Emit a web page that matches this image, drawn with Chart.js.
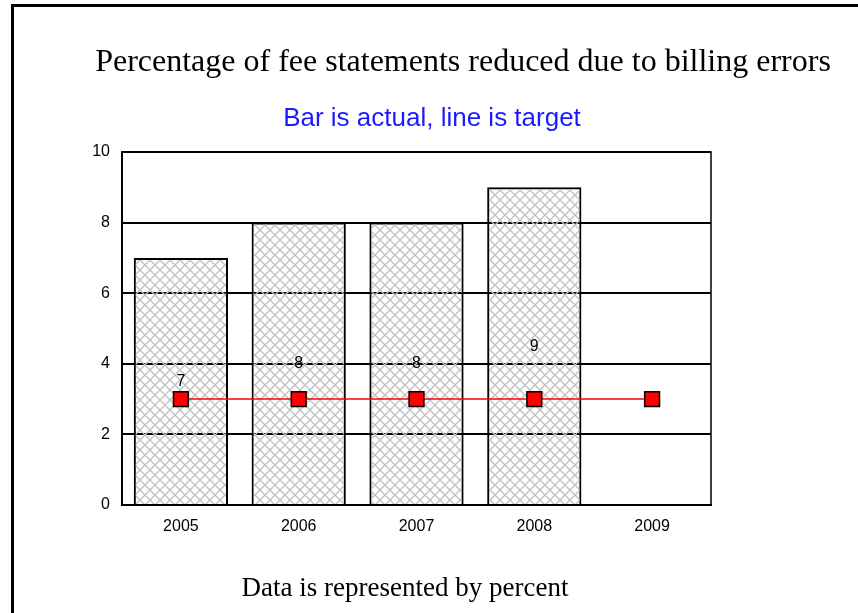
<!DOCTYPE html>
<html>
<head>
<meta charset="utf-8">
<script src="https://cdn.jsdelivr.net/npm/chart.js@4.4.1/dist/chart.umd.min.js"></script>
<style>
  html, body { margin: 0; padding: 0; background: #fff; }
  #wrap { position: relative; width: 858px; height: 613px; overflow: hidden; }
  #frame { position: absolute; left: 11px; top: 4px; width: 900px; height: 700px;
           border-left: 3px solid #000; border-top: 3px solid #000; }
  .txt { position: absolute; white-space: nowrap; transform: translate(-50%, -50%); }
  #title { left: 463px; top: 60px; font: 32px "Liberation Serif", "Times New Roman", serif; color: #000; }
  #subtitle { left: 432px; top: 117px; font: 26px "Liberation Sans", Arial, sans-serif; color: #1a1aff; }
  #footer { left: 405px; top: 587px; font: 27px "Liberation Serif", "Times New Roman", serif; color: #000; }
  #chart { position: absolute; left: 0; top: 0; }
</style>
</head>
<body>
<div id="wrap">
  <div id="frame"></div>
  <canvas id="chart" width="858" height="613"></canvas>
  <div class="txt" id="title">Percentage of fee statements reduced due to billing errors</div>
  <div class="txt" id="subtitle">Bar is actual, line is target</div>
  <div class="txt" id="footer">Data is represented by percent</div>
</div>
<script>
const years = ['2005', '2006', '2007', '2008', '2009'];
const actual = [7, 8, 8, 9, null];
const target = [3, 3, 3, 3, 3];
const yTicks = [0, 2, 4, 6, 8, 10];

const chartCanvas = document.getElementById('chart');
const ctx = chartCanvas.getContext('2d');
const tickFont = { family: '"Liberation Sans", Arial, sans-serif', size: 16 };

// grey cross-hatch, transparent between lines so the grid shows through as dashes
function makeHatch() {
    const n = 10;
    const c = document.createElement('canvas');
    c.width = n;
    c.height = n;
    const p = c.getContext('2d');
    p.strokeStyle = '#c2c2c2';
    p.lineWidth = 1.4;
    p.beginPath();
    p.moveTo(-1, -1); p.lineTo(n + 1, n + 1);
    p.moveTo(n + 1, -1); p.lineTo(-1, n + 1);
    p.stroke();
    return ctx.createPattern(c, 'repeat');
}

const barLabels = {
    id: 'barLabels',
    afterDatasetsDraw(chart) {
        const meta = chart.getDatasetMeta(1);
        const y = chart.scales.y;
        const c = chart.ctx;
        c.save();
        c.font = '16px "Liberation Sans", Arial, sans-serif';
        c.fillStyle = '#000';
        c.textAlign = 'center';
        c.textBaseline = 'middle';
        meta.data.forEach((bar, i) => {
            if (actual[i] == null) return;
            c.fillText(String(actual[i]), bar.x, y.getPixelForValue(actual[i] / 2));
        });
        c.restore();
    }
};

const plotFrame = {
    id: 'plotFrame',
    beforeDatasetsDraw(chart) {
        const a = chart.chartArea;
        const c = chart.ctx;
        c.save();
        c.strokeStyle = '#000';
        c.lineWidth = 1.5;
        c.strokeRect(a.left, a.top, a.right - a.left, a.bottom - a.top);
        c.restore();
    }
};

new Chart(chartCanvas, {
    data: {
        labels: years,
        datasets: [
            {
                type: 'line',
                label: 'Target',
                data: target,
                borderColor: '#ff0000',
                borderWidth: 1.5,
                pointStyle: 'rect',
                pointRadius: 10.5,
                pointHoverRadius: 10.5,
                pointBackgroundColor: '#ff0000',
                pointBorderColor: '#000',
                pointBorderWidth: 1.5,
                order: 0
            },
            {
                type: 'bar',
                label: 'Actual',
                data: actual,
                backgroundColor: makeHatch(),
                borderColor: '#000',
                borderWidth: 2,
                borderSkipped: 'start',
                categoryPercentage: 0.8,
                barPercentage: 1.0,
                order: 1
            }
        ]
    },
    options: {
        responsive: false,
        animation: false,
        layout: { padding: { left: 0, right: 147, top: 152, bottom: 68 } },
        plugins: {
            legend: { display: false },
            tooltip: { enabled: false }
        },
        scales: {
            x: {
                offset: true,
                grid: { display: false, drawTicks: false },
                border: { color: '#000', width: 2 },
                ticks: { color: '#000', padding: 12, font: tickFont },
                afterFit(scale) { scale.height = 40; }
            },
            y: {
                min: 0,
                max: 10,
                afterBuildTicks(scale) { scale.ticks = yTicks.map(v => ({ value: v })); },
                grid: { color: '#000', lineWidth: 2, drawTicks: false },
                border: { color: '#000', width: 2 },
                ticks: { color: '#000', padding: 12, font: tickFont },
                afterFit(scale) { scale.width = 122; }
            }
        }
    },
    plugins: [plotFrame, barLabels]
});
</script>
</body>
</html>
